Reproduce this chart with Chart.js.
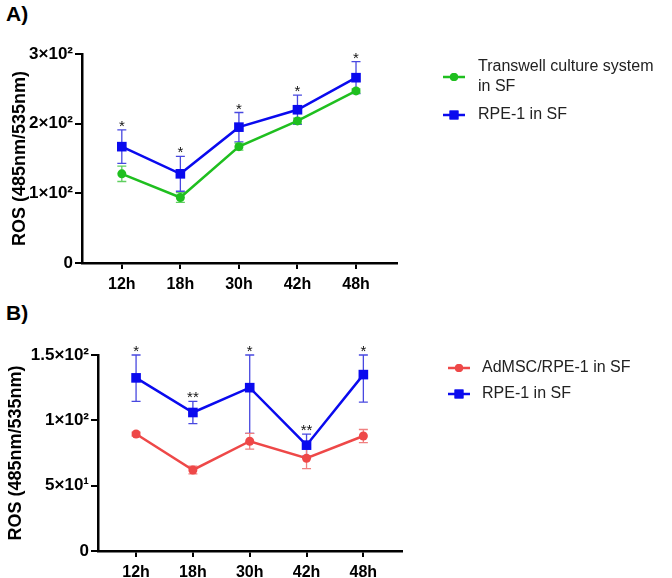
<!DOCTYPE html>
<html>
<head>
<meta charset="utf-8">
<script src="https://cdn.jsdelivr.net/npm/chart.js@4.4.1/dist/chart.umd.min.js"></script>
<style>
  body { margin: 0; background: #fff; width: 672px; height: 578px; overflow: hidden; }
  .panel { position: absolute; left: 0; }
  .tag { position: absolute; left: 6px; font: bold 21px "Liberation Sans", Arial, sans-serif; color: #000; }
</style>
</head>
<body>
<div class="tag" style="top:2px">A)</div>
<div class="panel" style="top:0"><canvas id="chartA" width="672" height="290"></canvas></div>
<div class="tag" style="top:301px">B)</div>
<div class="panel" style="top:290px"><canvas id="chartB" width="672" height="288"></canvas></div>
<script>
// 数据
const categories = ['12h', '18h', '30h', '42h', '48h'];

// A)
const transwellA = [128, 94, 167, 204, 247];
const transwellAErr = [11, 7, 5, 4, 3];
const rpeA = [167, 128, 195, 220, 266];
const rpeAErr = [24, 25, 21, 21, 23];
const starsA = ['*', '*', '*', '*', '*'];
const yTicksA = [0, 100, 200, 300];
const yLabelsA = ['0', '1×10²', '2×10²', '3×10²'];

// B)
const admscB = [89.5, 62, 84, 71, 88];
const admscBErr = [1.5, 3, 6, 8, 5];
const rpeB = [132.5, 106, 125, 81, 135];
const rpeBErr = [18, 8.5, 35, 8.5, 21];
const starsB = ['*', '**', '*', '**', '*'];
const yTicksB = [0, 50, 100, 150];
const yLabelsB = ['0', '5×10¹', '1×10²', '1.5×10²'];

const FONT = '"Liberation Sans", Arial, sans-serif';

function toPoints(vals) {
  return vals.map((v, i) => ({ x: i, y: v }));
}

// 误差线
const errorBars = {
  id: 'errorBars',
  beforeDatasetsDraw(chart) {
    const ctx = chart.ctx, x = chart.scales.x, y = chart.scales.y;
    chart.data.datasets.forEach(ds => {
      ctx.save();
      ctx.strokeStyle = ds.errorColor;
      ctx.lineWidth = 1.3;
      ds.errors.forEach((e, i) => {
        const v = ds.data[i].y;
        const px = x.getPixelForValue(i);
        const top = y.getPixelForValue(Math.min(v + e, y.max));
        const bot = y.getPixelForValue(Math.max(v - e, y.min));
        ctx.beginPath();
        ctx.moveTo(px, top); ctx.lineTo(px, bot);
        ctx.moveTo(px - 4.5, top); ctx.lineTo(px + 4.5, top);
        ctx.moveTo(px - 4.5, bot); ctx.lineTo(px + 4.5, bot);
        ctx.stroke();
      });
      ctx.restore();
    });
  },
  afterDatasetsDraw(chart) {
    // 显著性星号
    const ctx = chart.ctx, x = chart.scales.x, y = chart.scales.y;
    chart.data.datasets.forEach(ds => {
      if (!ds.stars) return;
      ctx.save();
      ctx.fillStyle = '#111';
      ctx.font = '15px ' + FONT;
      ctx.textAlign = 'center';
      ctx.textBaseline = 'alphabetic';
      ds.stars.forEach((s, i) => {
        const v = ds.data[i].y;
        const top = y.getPixelForValue(Math.min(v + ds.errors[i], y.max));
        ctx.fillText(s, x.getPixelForValue(i), top + 1);
      });
      ctx.restore();
    });
  }
};

// 图例
const sideLegend = {
  id: 'sideLegend',
  afterDraw(chart, args, opts) {
    const ctx = chart.ctx;
    chart.data.datasets.forEach((ds, k) => {
      const my = opts.markerY[k];
      ctx.save();
      ctx.strokeStyle = ds.borderColor;
      ctx.fillStyle = ds.borderColor;
      ctx.lineWidth = 2.5;
      ctx.beginPath();
      ctx.moveTo(opts.markerX - 11, my); ctx.lineTo(opts.markerX + 11, my);
      ctx.stroke();
      Chart.helpers.drawPoint(ctx, { pointStyle: ds.pointStyle, radius: ds.pointRadius - 0.5, borderWidth: 0 }, opts.markerX, my);
      ctx.fill();
      ctx.fillStyle = '#222';
      ctx.font = '16px ' + FONT;
      ctx.textBaseline = 'middle';
      const lines = [].concat(ds.legendLines);
      const y0 = my - (lines.length - 1) * 10;
      lines.forEach((t, j) => ctx.fillText(t, opts.textX, y0 + j * 20));
      ctx.restore();
    });
  }
};

function makeChart(id, cfg) {
  const series = cfg.series.map(s => ({
    label: s.lines.join(' '),
    legendLines: s.lines,
    data: toPoints(s.values),
    errors: s.errors,
    stars: s.stars,
    borderColor: s.color,
    backgroundColor: s.color,
    errorColor: s.errorColor,
    borderWidth: 2.5,
    pointStyle: s.style,
    pointRadius: s.style === 'rect' ? 6.8 : 4.5,
    pointBorderWidth: 0,
    tension: 0
  }));
  return new Chart(document.getElementById(id), {
    type: 'line',
    data: { datasets: series.reverse() },
    options: {
      responsive: false,
      animation: false,
      devicePixelRatio: 1,
      layout: { padding: { top: cfg.top, right: cfg.right, left: 0, bottom: 0 } },
      plugins: {
        legend: { display: false },
        tooltip: { enabled: false },
        sideLegend: cfg.legend
      },
      scales: {
        x: {
          type: 'linear',
          min: cfg.xMin,
          max: cfg.xMax,
          afterBuildTicks: axis => { axis.ticks = categories.map((c, i) => ({ value: i })); },
          afterFit: axis => { axis.height = cfg.xHeight; },
          border: { display: true, color: '#000', width: 2.5 },
          grid: { display: true, drawOnChartArea: false, color: '#000', lineWidth: 2, tickLength: 6 },
          ticks: {
            padding: 6,
            color: '#000',
            font: { family: FONT, size: 16, weight: 'bold' },
            callback: v => categories[v]
          }
        },
        y: {
          min: cfg.yTicks[0],
          max: cfg.yTicks[cfg.yTicks.length - 1],
          afterBuildTicks: axis => { axis.ticks = cfg.yTicks.map(v => ({ value: v })); },
          afterFit: axis => { axis.width = cfg.left; },
          border: { display: true, color: '#000', width: 2.5 },
          grid: { display: true, drawOnChartArea: false, color: '#000', lineWidth: 2, tickLength: 7 },
          title: {
            display: true,
            text: 'ROS (485nm/535nm)',
            color: '#000',
            padding: { top: cfg.titlePad, bottom: 0 },
            font: { family: FONT, size: 18, weight: 'bold' }
          },
          ticks: {
            padding: 2,
            color: '#000',
            font: { family: FONT, size: 17, weight: 'bold' },
            callback: v => cfg.yLabels[cfg.yTicks.indexOf(v)]
          }
        }
      }
    },
    plugins: [errorBars, sideLegend]
  });
}

makeChart('chartA', {
  top: 54, right: 275, left: 82, xHeight: 27, titlePad: 9,
  xMin: -0.68, xMax: 4.70,
  yTicks: yTicksA, yLabels: yLabelsA,
  legend: { markerX: 454, textX: 478, markerY: [115, 77] },
  series: [
    { lines: ['Transwell culture system', 'in SF'], values: transwellA, errors: transwellAErr,
      color: '#1fbf1f', errorColor: '#5fcf5f', style: 'circle' },
    { lines: ['RPE-1 in SF'], values: rpeA, errors: rpeAErr, stars: starsA,
      color: '#0a0aee', errorColor: '#4848e0', style: 'rect' }
  ]
});

makeChart('chartB', {
  top: 65, right: 270, left: 98, xHeight: 27, titlePad: 5,
  xMin: -0.67, xMax: 4.68,
  yTicks: yTicksB, yLabels: yLabelsB,
  legend: { markerX: 459, textX: 482, markerY: [104, 78] },
  series: [
    { lines: ['AdMSC/RPE-1 in SF'], values: admscB, errors: admscBErr,
      color: '#ee4848', errorColor: '#f08080', style: 'circle' },
    { lines: ['RPE-1 in SF'], values: rpeB, errors: rpeBErr, stars: starsB,
      color: '#0a0aee', errorColor: '#4848e0', style: 'rect' }
  ]
});
</script>
</body>
</html>
